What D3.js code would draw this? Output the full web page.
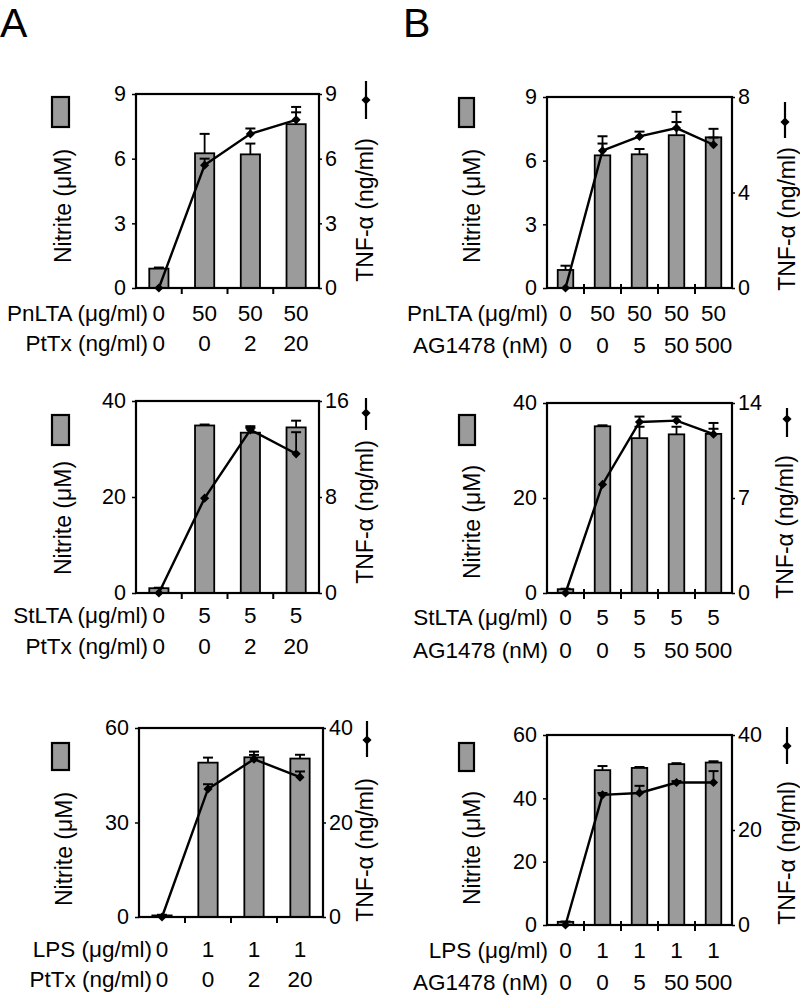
<!DOCTYPE html>
<html>
<head>
<meta charset="utf-8">
<script src="https://cdnjs.cloudflare.com/ajax/libs/d3/7.8.5/d3.min.js"></script>
<style>
  body { margin: 0; background: #fff; }
  text { font-family: "Liberation Sans", Arial, sans-serif; fill: #000; }
</style>
</head>
<body>
<svg id="fig" width="800" height="999"></svg>
<script>
// ---- data ----
// panel A : PtTx series
const nitA1 = [0.9, 6.25, 6.2, 7.6]
const nitErrA1 = [0.05, 0.9, 0.5, 0.8]
const tnfA1 = [0, 5.7, 7.15, 7.8]
const tnfErrA1 = [0, 0.3, 0.25, 0.35]

const nitA2 = [1.0, 34.9, 33.4, 34.5]
const nitErrA2 = [0.1, 0.2, 1.0, 1.4]
const tnfA2 = [0, 7.9, 13.6, 11.6]
const tnfErrA2 = [0, 0, 0.3, 1.8]

const nitA3 = [0.5, 49.0, 50.7, 50.3]
const nitErrA3 = [0.2, 1.6, 1.8, 1.2]
const tnfA3 = [0, 27.1, 33.4, 29.6]
const tnfErrA3 = [0, 1.0, 0.9, 1.2]

// panel B : AG1478 series
const nitB1 = [0.85, 6.25, 6.3, 7.2, 7.1]
const nitErrB1 = [0.2, 0.9, 0.25, 1.1, 0.4]
const tnfB1 = [0, 5.75, 6.35, 6.7, 6.0]
const tnfErrB1 = [0, 0.3, 0.2, 0.25, 0.3]

const nitB2 = [0.8, 35.1, 32.6, 33.4, 33.5]
const nitErrB2 = [0.1, 0.2, 2.4, 1.6, 2.3]
const tnfB2 = [0, 8.0, 12.6, 12.7, 11.7]
const tnfErrB2 = [0, 0, 0.4, 0.3, 0.4]

const nitB3 = [1.0, 48.9, 49.6, 50.8, 51.3]
const nitErrB3 = [0.1, 1.3, 0.3, 0.3, 0.4]
const tnfB3 = [0, 27.4, 27.8, 30.0, 30.0]
const tnfErrB3 = [0, 0.4, 1.5, 0.3, 2.4]

// axis ticks
const leftTicksA1 = [0, 3, 6, 9], rightTicksA1 = [0, 3, 6, 9]
const leftTicksA2 = [0, 20, 40], rightTicksA2 = [0, 8, 16]
const leftTicksA3 = [0, 30, 60], rightTicksA3 = [0, 20, 40]
const leftTicksB1 = [0, 3, 6, 9], rightTicksB1 = [0, 4, 8]
const leftTicksB2 = [0, 20, 40], rightTicksB2 = [0, 7, 14]
const leftTicksB3 = [0, 20, 40, 60], rightTicksB3 = [0, 20, 40]

// treatment rows under each chart
const pnltaA = ["0", "50", "50", "50"], stltaA = ["0", "5", "5", "5"], lpsA = ["0", "1", "1", "1"]
const pttx = ["0", "0", "2", "20"]
const pnltaB = ["0", "50", "50", "50", "50"], stltaB = ["0", "5", "5", "5", "5"], lpsB = ["0", "1", "1", "1", "1"]
const ag1478 = ["0", "0", "5", "50", "500"]

const nitLabel = "Nitrite (\u03bcM)"
const tnfLabel = "TNF-\u03b1 (ng/ml)"

// ---- layout ----
const panels = [
  { nit: nitA1, nitErr: nitErrA1, tnf: tnfA1, tnfErr: tnfErrA1, lt: leftTicksA1, rt: rightTicksA1,
    box: [136, 94, 319, 288], cross: false, rows: [["PnLTA (\u03bcg/ml)", pnltaA, 321], ["PtTx (ng/ml)", pttx, 351]], labX: 148,
    rect: [52, 97, 17, 30], nitT: [71, 206], tnfT: [373, 210], mark: [366, 81, 119, 100] },
  { nit: nitA2, nitErr: nitErrA2, tnf: tnfA2, tnfErr: tnfErrA2, lt: leftTicksA2, rt: rightTicksA2,
    box: [136, 401, 319, 593], cross: false, rows: [["StLTA (\u03bcg/ml)", stltaA, 623], ["PtTx (ng/ml)", pttx, 654]], labX: 148,
    rect: [52, 415, 17, 30], nitT: [71, 518], tnfT: [373, 512], mark: [366, 398, 430, 413] },
  { nit: nitA3, nitErr: nitErrA3, tnf: tnfA3, tnfErr: tnfErrA3, lt: leftTicksA3, rt: rightTicksA3,
    box: [139, 728, 323, 917], cross: false, rows: [["LPS (\u03bcg/ml)", lpsA, 957], ["PtTx (ng/ml)", pttx, 987]], labX: 152,
    rect: [52, 743, 17, 27], nitT: [72, 849], tnfT: [373, 850], mark: [367, 721, 757, 740] },
  { nit: nitB1, nitErr: nitErrB1, tnf: tnfB1, tnfErr: tnfErrB1, lt: leftTicksB1, rt: rightTicksB1,
    box: [547, 97, 732, 288], cross: true, rows: [["PnLTA (\u03bcg/ml)", pnltaB, 321], ["AG1478 (nM)", ag1478, 353]], labX: 548,
    rect: [459, 98, 15, 29], nitT: [480, 206], tnfT: [795, 219], mark: [785, 102, 138, 122] },
  { nit: nitB2, nitErr: nitErrB2, tnf: tnfB2, tnfErr: tnfErrB2, lt: leftTicksB2, rt: rightTicksB2,
    box: [547, 403, 732, 593], cross: true, rows: [["StLTA (\u03bcg/ml)", stltaB, 625], ["AG1478 (nM)", ag1478, 658]], labX: 548,
    rect: [459, 415, 16, 30], nitT: [480, 522], tnfT: [793, 527], mark: [787, 408, 437, 419] },
  { nit: nitB3, nitErr: nitErrB3, tnf: tnfB3, tnfErr: tnfErrB3, lt: leftTicksB3, rt: rightTicksB3,
    box: [547, 735, 732, 925], cross: true, rows: [["LPS (\u03bcg/ml)", lpsB, 958], ["AG1478 (nM)", ag1478, 990]], labX: 548,
    rect: [459, 743, 15, 28], nitT: [480, 848], tnfT: [795, 853], mark: [787, 727, 764, 746] }
]

const svg = d3.select('#fig')
const diamond = d3.symbol().type(d3.symbolSquare).size(42)

function errBars(g, vals, errs, y, cx) {
  vals.forEach((v, i) => {
    if (!errs[i]) return
    const top = y(v + errs[i])
    g.append('line').attr('x1', cx(i)).attr('x2', cx(i)).attr('y1', y(v)).attr('y2', top)
      .attr('stroke', '#000').attr('stroke-width', 1.8)
    g.append('line').attr('x1', cx(i) - 5).attr('x2', cx(i) + 5).attr('y1', top).attr('y2', top)
      .attr('stroke', '#000').attr('stroke-width', 2)
  })
}

function drawPanel(p) {
  const g = svg.append('g')
  const [x0, y0, x1, y1] = p.box
  const n = p.nit.length
  const x = d3.scaleBand().domain(d3.range(n)).range([x0, x1])
  const cx = i => x(i) + x.bandwidth() / 2
  const bw = x.bandwidth() * 0.42
  const yL = d3.scaleLinear().domain([0, d3.max(p.lt)]).range([y1, y0])
  const yR = d3.scaleLinear().domain([0, d3.max(p.rt)]).range([y1, y0])

  // nitrite bars
  g.selectAll('.bar').data(p.nit).enter().append('rect')
    .attr('x', (d, i) => cx(i) - bw / 2).attr('y', d => yL(d))
    .attr('width', bw).attr('height', d => y1 - yL(d))
    .attr('fill', '#9b9b9b').attr('stroke', '#000').attr('stroke-width', 1.8)
  errBars(g, p.nit, p.nitErr, yL, cx)

  // TNF line + diamonds
  const lineFunc = d3.line().x((d, i) => cx(i)).y(d => yR(d))
  g.append('path').attr('d', lineFunc(p.tnf)).attr('fill', 'none').attr('stroke', '#000').attr('stroke-width', 2.4)
  errBars(g, p.tnf, p.tnfErr, yR, cx)
  g.selectAll('.pt').data(p.tnf).enter().append('path')
    .attr('d', diamond)
    .attr('transform', (d, i) => `translate(${cx(i)},${yR(d)}) rotate(45)`)
    .attr('fill', '#000')

  // axes
  const axL = g.append('g').attr('transform', `translate(${x0},0)`)
    .call(d3.axisLeft(yL).tickValues(p.lt).tickSize(4).tickPadding(6))
  const axR = g.append('g').attr('transform', `translate(${x1},0)`)
    .call(d3.axisRight(yR).tickValues(p.rt).tickSize(3).tickPadding(3))
  ;[axL, axR].forEach(a => {
    a.select('.domain').remove()
    a.selectAll('line').attr('stroke', '#000').attr('stroke-width', 1.5)
    a.selectAll('text').style('font-size', '21.5px').style('font-family', '"Liberation Sans", Arial, sans-serif')
  })

  // category ticks on the baseline
  g.selectAll('.xt').data(d3.range(1, n)).enter().append('line')
    .attr('x1', i => x(i)).attr('x2', i => x(i))
    .attr('y1', p.cross ? y1 - 4 : y1).attr('y2', y1 + 6)
    .attr('stroke', '#000').attr('stroke-width', 2)

  // frame
  g.append('rect').attr('x', x0).attr('y', y0).attr('width', x1 - x0).attr('height', y1 - y0)
    .attr('fill', 'none').attr('stroke', '#000').attr('stroke-width', 2.2)

  // legend keys and axis titles
  g.append('rect').attr('x', p.rect[0]).attr('y', p.rect[1]).attr('width', p.rect[2]).attr('height', p.rect[3])
    .attr('fill', '#9b9b9b').attr('stroke', '#000').attr('stroke-width', 2.2)
  g.append('text').attr('transform', `translate(${p.nitT[0]},${p.nitT[1]}) rotate(-90)`)
    .attr('text-anchor', 'middle').style('font-size', '23px').text(nitLabel)
  g.append('text').attr('transform', `translate(${p.tnfT[0]},${p.tnfT[1]}) rotate(-90)`)
    .attr('text-anchor', 'middle').style('font-size', '23px').text(tnfLabel)
  g.append('line').attr('x1', p.mark[0]).attr('x2', p.mark[0]).attr('y1', p.mark[1]).attr('y2', p.mark[2])
    .attr('stroke', '#000').attr('stroke-width', 2.2)
  g.append('path').attr('d', diamond).attr('transform', `translate(${p.mark[0]},${p.mark[3]}) rotate(45)`).attr('fill', '#000')

  // treatment rows
  p.rows.forEach(([label, vals, yb]) => {
    g.append('text').attr('x', p.labX).attr('y', yb).attr('text-anchor', 'end')
      .style('font-size', '22.5px').text(label)
    g.selectAll(null).data(vals).enter().append('text')
      .attr('x', (d, i) => cx(i)).attr('y', yb).attr('text-anchor', 'middle')
      .style('font-size', '22.5px').text(d => d)
  })
}

panels.forEach(drawPanel)

svg.append('text').attr('x', 0).attr('y', 37).style('font-size', '41px').text('A')
svg.append('text').attr('x', 403).attr('y', 37).style('font-size', '41px').text('B')
</script>
</body>
</html>
